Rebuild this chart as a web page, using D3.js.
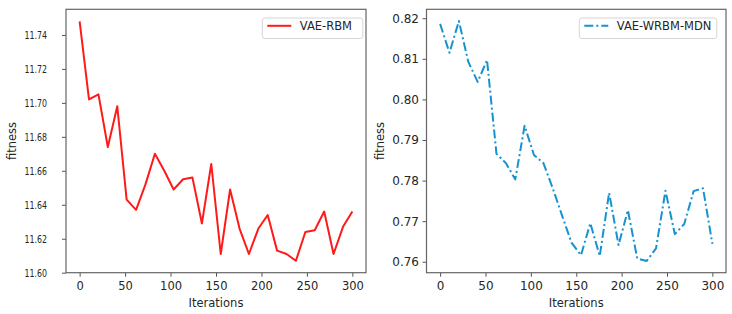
<!DOCTYPE html>
<html lang="en">
<head>
<meta charset="UTF-8">
<title>Fitness vs Iterations</title>
<script src="https://d3js.org/d3.v7.min.js"></script>
<style>
  body { margin: 0; background: white; font-family: "DejaVu Sans", sans-serif; }
  svg text { fill: #262626; }
  .tick line { stroke: #555; }
</style>
</head>
<body>
<div id="chart"></div>
<script>
// iterations (x positions of the 30 points)
var iterations = [0, 10.3, 20.7, 31.0, 41.4, 51.7, 62.1, 72.4, 82.8, 93.1,
  103.4, 113.8, 124.1, 134.5, 144.8, 155.2, 165.5, 175.9, 186.2, 196.6,
  206.9, 217.2, 227.6, 237.9, 248.3, 258.6, 269.0, 279.3, 289.7, 300];

// left panel: VAE-RBM
var rbmFitness = [11.748, 11.702, 11.705, 11.674, 11.698, 11.643, 11.637, 11.652, 11.670, 11.660,
  11.649, 11.655, 11.656, 11.629, 11.664, 11.611, 11.649, 11.626, 11.611, 11.626,
  11.634, 11.613, 11.611, 11.607, 11.624, 11.625, 11.636, 11.611, 11.627, 11.636];

// right panel: VAE-WRBM-MDN
var mdnFitness = [0.8186, 0.8115, 0.8193, 0.8093, 0.8043, 0.8097, 0.7866, 0.7843, 0.7803, 0.7935,
  0.7863, 0.7843, 0.7781, 0.7713, 0.7647, 0.7616, 0.7695, 0.7614, 0.7770, 0.7641,
  0.7727, 0.7608, 0.7602, 0.7633, 0.7775, 0.7668, 0.7693, 0.7774, 0.7781, 0.7644];

var xTicks = [0, 50, 100, 150, 200, 250, 300];
var rbmTicks = [11.60, 11.62, 11.64, 11.66, 11.68, 11.70, 11.72, 11.74];
var mdnTicks = [0.76, 0.77, 0.78, 0.79, 0.80, 0.81, 0.82];

var width = 732, height = 314;
var svg = d3.select("#chart").append("svg")
  .attr("width", width).attr("height", height);

var plotTop = 9.3, plotBottom = 272.7;

function panel(opt) {
  var x = d3.scaleLinear().domain([-15, 315]).range([opt.left, opt.right]);
  var y = d3.scaleLinear().domain(opt.yDomain).range([plotBottom, plotTop]);
  var g = svg.append("g");

  // x axis
  var xa = g.append("g")
    .attr("transform", "translate(0," + plotBottom + ")")
    .call(d3.axisBottom(x).tickValues(xTicks).tickSize(4).tickPadding(5).tickSizeOuter(0));
  xa.select(".domain").remove();
  xa.selectAll("text").style("font-size", opt.xFont + "px")
    .style("font-family", "DejaVu Sans");

  // y axis
  var ya = g.append("g")
    .attr("transform", "translate(" + opt.left + ",0)")
    .call(d3.axisLeft(y).tickValues(opt.yTicks).tickFormat(d3.format(".2f"))
      .tickSize(4).tickPadding(opt.yPad).tickSizeOuter(0));
  ya.select(".domain").remove();
  ya.selectAll("text").style("font-size", opt.yFont + "px")
    .style("font-family", "DejaVu Sans");
  if (opt.yLen) {
    ya.selectAll("text").attr("textLength", opt.yLen).attr("lengthAdjust", "spacingAndGlyphs");
  }

  // frame
  g.append("rect")
    .attr("x", opt.left).attr("y", plotTop)
    .attr("width", opt.right - opt.left).attr("height", plotBottom - plotTop)
    .attr("fill", "none").attr("stroke", "#666").attr("stroke-width", 1.2);

  // line
  var line = d3.line()
    .x(function(d, i) { return x(iterations[i]); })
    .y(function(d) { return y(d); });
  g.append("path")
    .datum(opt.values)
    .attr("d", line)
    .attr("fill", "none")
    .attr("stroke", opt.color)
    .attr("stroke-width", 2)
    .attr("stroke-linejoin", "round")
    .attr("stroke-dasharray", opt.dash || null);

  // labels
  g.append("text")
    .attr("x", (opt.left + opt.right) / 2).attr("y", 306.7)
    .attr("text-anchor", "middle")
    .style("font-size", "11.5px")
    .text("Iterations");
  g.append("text")
    .attr("transform", "translate(" + opt.yLabelX + "," + (plotTop + plotBottom) / 2 + ") rotate(-90)")
    .attr("text-anchor", "middle")
    .style("font-size", "11.5px")
    .text("fitness");

  // legend
  var lg = g.append("g");
  lg.append("rect")
    .attr("x", opt.legX).attr("y", 18)
    .attr("width", opt.legW).attr("height", 20.5)
    .attr("rx", 2.5)
    .attr("fill", "white").attr("fill-opacity", 0.8)
    .attr("stroke", "#d5d5d5");
  lg.append("line")
    .attr("x1", opt.legX + 5).attr("x2", opt.legX + 29)
    .attr("y1", 25.8).attr("y2", 25.8)
    .attr("stroke", opt.color).attr("stroke-width", 2)
    .attr("stroke-dasharray", opt.dash || null);
  lg.append("text")
    .attr("x", opt.legX + 37.5).attr("y", 29.5)
    .style("font-size", "11.5px")
    .text(opt.name);
}

panel({
  left: 66, right: 366,
  yDomain: [11.600, 11.7551],
  yTicks: rbmTicks,
  values: rbmFitness,
  color: "#ff1a1a",
  name: "VAE-RBM",
  xFont: 11.5, yFont: 10.4, yPad: 15, yLen: 22.5,
  yLabelX: 15.5,
  legX: 262.3, legW: 100.5
});

panel({
  left: 426.5, right: 726,
  yDomain: [0.7573, 0.8222],
  yTicks: mdnTicks,
  values: mdnFitness,
  color: "#1593d0",
  dash: "9,3,2,3",
  name: "VAE-WRBM-MDN",
  xFont: 12, yFont: 12, yPad: 3.5,
  yLabelX: 384,
  legX: 579.3, legW: 137.5
});
</script>
</body>
</html>
